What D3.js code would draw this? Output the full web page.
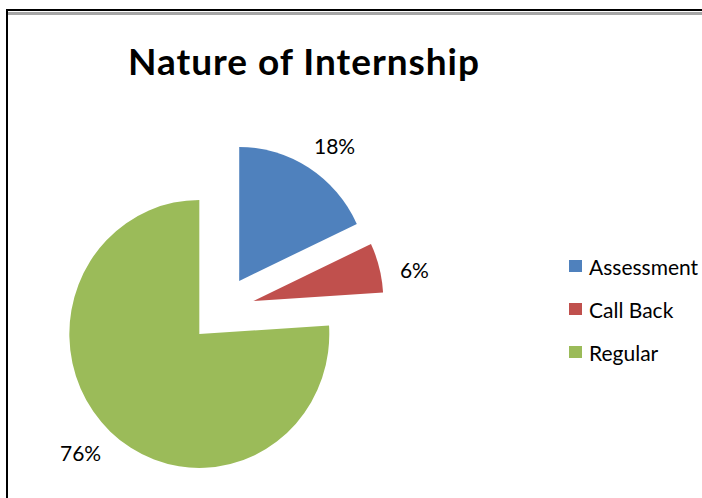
<!DOCTYPE html>
<html lang="en">
<head>
  <meta charset="UTF-8">
  <title>Nature of Internship</title>
  <script src="https://d3js.org/d3.v7.min.js"></script>
  <style>
    body { margin: 0; background: #fff; }
    text { font-family: Lato, "Open Sans", sans-serif; fill: #000; }
  </style>
</head>
<body>
<svg id="chart" width="702" height="498"></svg>
<script>
// data
const categories = ["Assessment", "Call Back", "Regular"];
const values = [18, 6, 76];
const labels = ["18%", "6%", "76%"];
const colors = ["#4F81BD", "#C0504D", "#9BBB59"];

const svg = d3.select("#chart");

// frame lines at top / left
svg.append("rect").attr("x", 6).attr("y", 9).attr("width", 696).attr("height", 2).attr("fill", "#000");
svg.append("rect").attr("x", 8).attr("y", 12).attr("width", 694).attr("height", 3).attr("fill", "#a6a6a6");
svg.append("rect").attr("x", 6).attr("y", 9).attr("width", 2).attr("height", 489).attr("fill", "#000");

// title
svg.append("text")
  .attr("x", 303.5)
  .attr("y", 75)
  .attr("text-anchor", "middle")
  .attr("font-size", 37)
  .attr("font-weight", "bold")
  .attr("textLength", 351)
  .attr("lengthAdjust", "spacing")
  .text("Nature of Internship");

// pie
const cx = 221.7, cy = 309.4;
const radius = 134, explode = 33.7, sx = 0.97;

const pie = d3.pie().sort(null).value(d => d);
const arcs = pie(values);
const arc = d3.arc().innerRadius(0).outerRadius(radius);

const g = svg.append("g")
  .attr("transform", `translate(${cx},${cy}) scale(${sx},1)`);

g.selectAll("path")
  .data(arcs)
  .join("path")
  .attr("fill", (d, i) => colors[i])
  .attr("transform", d => {
    const a = (d.startAngle + d.endAngle) / 2;
    return `translate(${Math.sin(a) * explode},${-Math.cos(a) * explode})`;
  })
  .attr("d", arc);

// data labels outside the slices
const labelR = 203;
svg.append("g")
  .selectAll("text")
  .data(arcs)
  .join("text")
  .attr("x", d => cx + sx * labelR * Math.sin((d.startAngle + d.endAngle) / 2 + 0.045))
  .attr("y", d => cy + 2 - labelR * Math.cos((d.startAngle + d.endAngle) / 2 + 0.045))
  .attr("text-anchor", "middle")
  .attr("dominant-baseline", "central")
  .attr("font-size", 21)
  .text((d, i) => labels[i]);

// legend
const legend = svg.append("g")
  .attr("transform", "translate(569,266)");

const row = legend.selectAll("g")
  .data(categories)
  .join("g")
  .attr("transform", (d, i) => `translate(0,${i * 43})`);

row.append("rect")
  .attr("x", 0)
  .attr("y", -6)
  .attr("width", 13)
  .attr("height", 12)
  .attr("fill", (d, i) => colors[i]);

row.append("text")
  .attr("x", 20)
  .attr("y", 0)
  .attr("dominant-baseline", "central")
  .attr("font-size", 21)
  .text(d => d);
</script>
</body>
</html>
